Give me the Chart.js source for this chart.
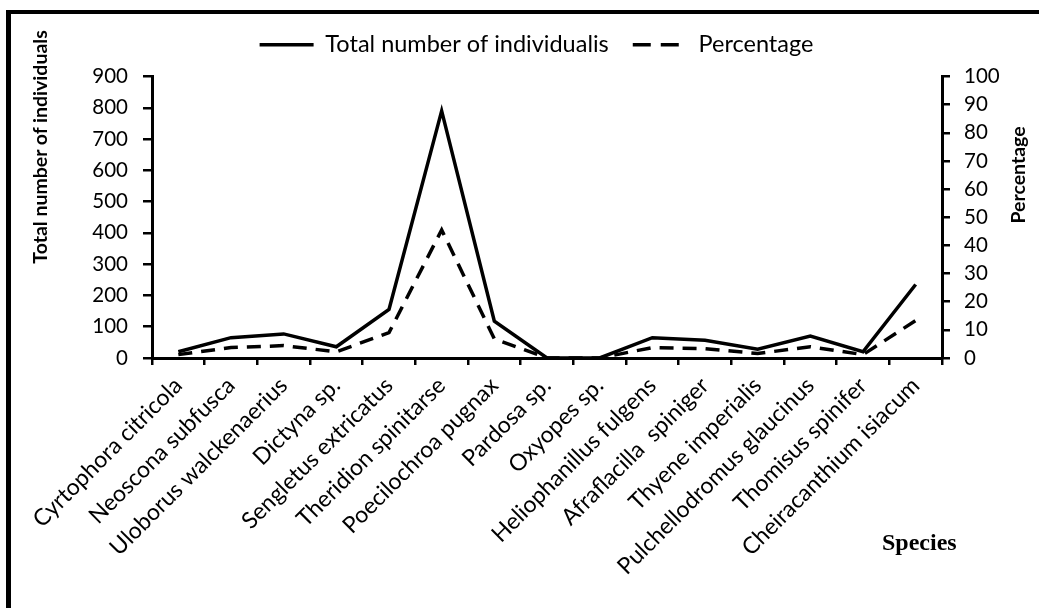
<!DOCTYPE html>
<html><head><meta charset="utf-8">
<script src="https://cdn.jsdelivr.net/npm/chart.js@4"></script>
<style>
html,body{margin:0;padding:0;background:#fff;}
#wrap{position:relative;width:1039px;height:608px;overflow:hidden;}
#frame{position:absolute;left:6px;top:10px;width:1100px;height:700px;border-top:4px solid #000;border-left:5px solid #000;pointer-events:none;}
#species{position:absolute;left:882px;top:530px;font:bold 24px "Liberation Serif";line-height:1;color:#000;}
.ytitle{position:absolute;font:bold 19.5px "Lato";line-height:1;color:#000;white-space:nowrap;transform:translate(-50%,-50%) rotate(-90deg);}
#ytl{left:40px;top:147px;}
#ytr{left:1018px;top:175px;}
</style>
</head><body>
<div id="wrap"><canvas id="c" width="1039" height="608"></canvas><div id="frame"></div>
<div id="species">Species</div>
<div class="ytitle" id="ytl">Total number of individuals</div>
<div class="ytitle" id="ytr">Percentage</div>
</div>
<script>
const categories = ["Cyrtophora citricola","Neoscona subfusca","Uloborus walckenaerius","Dictyna sp.","Sengletus extricatus","Theridion spinitarse","Poecilochroa pugnax","Pardosa sp.","Oxyopes sp.","Heliophanillus fulgens","Afraflacilla  spiniger","Thyene imperialis","Pulchellodromus glaucinus","Thomisus spinifer","Cheiracanthium isiacum"];
const totalIndividuals = [20, 65, 77, 36, 155, 790, 118, 0, 0, 65, 57, 28, 70, 20, 235];
const percentage = [1.2, 3.7, 4.4, 2.2, 9.0, 45.5, 6.8, 0, 0, 3.7, 3.3, 1.6, 4.0, 1.2, 13.3];
const leftTicks = [0, 100, 200, 300, 400, 500, 600, 700, 800, 900];
const rightTicks = [0, 10, 20, 30, 40, 50, 60, 70, 80, 90, 100];
const seriesNames = ["Total number of individualis", "Percentage"];

const FONT = "Lato";
const PAD_LEFT = 34;
const legendSpace = {
  id: 'legendSpace',
  beforeLayout(chart) {
    const lg = chart.legend;
    if (lg && !lg._wrapped) {
      const f = lg.fit;
      lg.fit = function () { f.call(this); this.height += 10; };
      lg._wrapped = true;
    }
  }
};

new Chart(document.getElementById('c'), {
  type: 'line',
  data: {
    labels: categories,
    datasets: [
      { label: seriesNames[0], data: totalIndividuals, yAxisID: 'y', borderColor: '#000', backgroundColor: '#000', borderWidth: 3.5, pointRadius: 0, tension: 0, clip: false },
      { label: seriesNames[1], data: percentage, yAxisID: 'y1', borderColor: '#000', backgroundColor: '#000', borderWidth: 3.5, borderDash: [14, 9], pointRadius: 0, tension: 0, clip: false }
    ]
  },
  options: {
    responsive: false,
    animation: false,
    devicePixelRatio: 1,
    layout: { padding: { top: 9, left: PAD_LEFT, right: 0, bottom: 0 } },
    plugins: {
      legend: {
        position: 'top',
        labels: {
          usePointStyle: true, pointStyle: 'line', pointStyleWidth: 54, color: '#000',
          font: { family: FONT, size: 23.5 }, padding: 24,
          generateLabels(chart) {
            return chart.data.datasets.map((ds, i) => ({
              text: ds.label, datasetIndex: i, pointStyle: 'line', lineWidth: 3.5,
              strokeStyle: '#000', fillStyle: '#000', fontColor: '#000',
              lineDash: ds.borderDash ? [18, 10] : [], hidden: false
            }));
          }
        }
      },
      tooltip: { enabled: false }
    },
    scales: {
      x: {
        offset: true,
        grid: { offset: true, drawOnChartArea: false, color: '#000', lineWidth: 2.5, tickLength: 7 },
        border: { color: '#000', width: 3 },
        ticks: { color: '#000', font: { family: FONT, size: 23 }, maxRotation: 45, minRotation: 45, padding: 7, autoSkip: false },
        afterFit(s) { s.height = 250; }
      },
      y: {
        position: 'left',
        min: leftTicks[0], max: leftTicks[leftTicks.length - 1],
        afterBuildTicks(s) { s.ticks = leftTicks.map(v => ({ value: v })); },
        grid: { drawOnChartArea: false, color: '#000', lineWidth: 2.5, tickLength: 9 },
        border: { color: '#000', width: 3 },
        ticks: { color: '#000', font: { family: FONT, size: 20.5 }, padding: 15, autoSkip: false },
        afterFit(s) { s.width = 152 - PAD_LEFT; }
      },
      y1: {
        position: 'right',
        min: rightTicks[0], max: rightTicks[rightTicks.length - 1],
        afterBuildTicks(s) { s.ticks = rightTicks.map(v => ({ value: v })); },
        grid: { drawOnChartArea: false, color: '#000', lineWidth: 2.5, tickLength: 8 },
        border: { color: '#000', width: 3 },
        ticks: { color: '#000', font: { family: FONT, size: 20.5 }, padding: 14, autoSkip: false },
        afterFit(s) { s.width = 97; }
      }
    }
  },
  plugins: [legendSpace]
});
</script>
</body></html>
